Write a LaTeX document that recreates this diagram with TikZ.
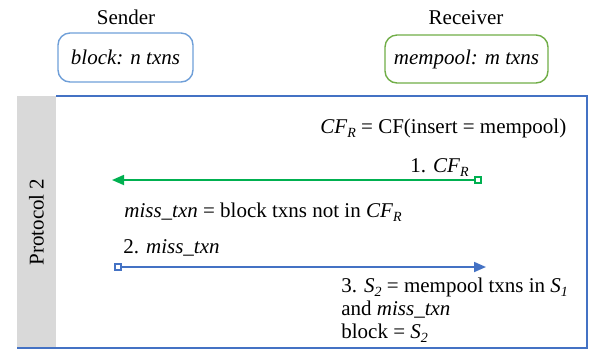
\documentclass[tikz,border=0pt]{standalone}
\usepackage{fontspec}
\setmainfont{Liberation Serif}
\usetikzlibrary{arrows.meta}
\definecolor{frameblue}{HTML}{4472C4}
\definecolor{boxblue}{HTML}{6F9FD8}
\definecolor{boxgreen}{HTML}{70AD47}
\definecolor{msggreen}{HTML}{00B050}
\definecolor{bargray}{HTML}{D9D9D9}
\newcommand{\lowidx}[1]{\raisebox{-2.3pt}{\fontsize{7}{8}\selectfont\itshape #1}}
\tikzset{
  txt/.style={font=\fontsize{10.5}{12.6}\selectfont, inner sep=0pt},
  note/.style={txt, anchor=base west},
  hostbox/.style={txt, draw, rounded corners=6pt, line width=0.7pt, font=\fontsize{10.5}{12.6}\selectfont\itshape},
  msg/.style={line width=0.9pt, {Square[open,length=4pt,width=4pt]}-{Triangle[length=6pt,width=5pt]}},
}
\begin{document}
\begin{tikzpicture}[x=0.5pt,y=-0.5pt]
\useasboundingbox (0,0) rectangle (593,350);
\node[txt, anchor=base] (sender) at (126,24) {Sender};
\node[txt, anchor=base] (receiver) at (466,24) {Receiver};
\node[hostbox, draw=boxblue, minimum width=67.5pt, minimum height=24.5pt] (sbox) at (125.5,57.5) {block: n txns};
\node[hostbox, draw=boxgreen, minimum width=81.5pt, minimum height=24pt] (rbox) at (466.5,59) {mempool: m txns};
\node[txt, fill=bargray, rotate=90, minimum width=126pt, minimum height=19.5pt] (proto) at (36.5,222) {Protocol 2};
\draw[frameblue, line width=0.6pt] (56,96) -- (587,96) -- (587,348) -- (17,348);
\node[note] (cfdef) at (320,133) {\textit{CF}\lowidx{R} = CF(insert = mempool)};
\node[note] (msg1) at (410,172) {1. \textit{CF}\lowidx{R}};
\coordinate (rcv1) at (482,180);
\coordinate (snd1) at (112,180);
\draw[msg, msggreen] (rcv1) -- (snd1);
\node[note] (missdef) at (124,217) {\textit{miss\_txn} = block txns not in \textit{CF}\lowidx{R}};
\node[note] (msg2) at (123,253) {2. \textit{miss\_txn}};
\coordinate (snd2) at (114,267);
\coordinate (rcv2) at (486,267);
\draw[msg, frameblue] (snd2) -- (rcv2);
\node[note] (step3a) at (341,292) {3. \textit{S}\lowidx{2} = mempool txns in \textit{S}\lowidx{1}};
\node[note] (step3b) at (341,315) {and \textit{miss\_txn}};
\node[note] (step3c) at (341,338) {block = \textit{S}\lowidx{2}};
\end{tikzpicture}
\end{document}
